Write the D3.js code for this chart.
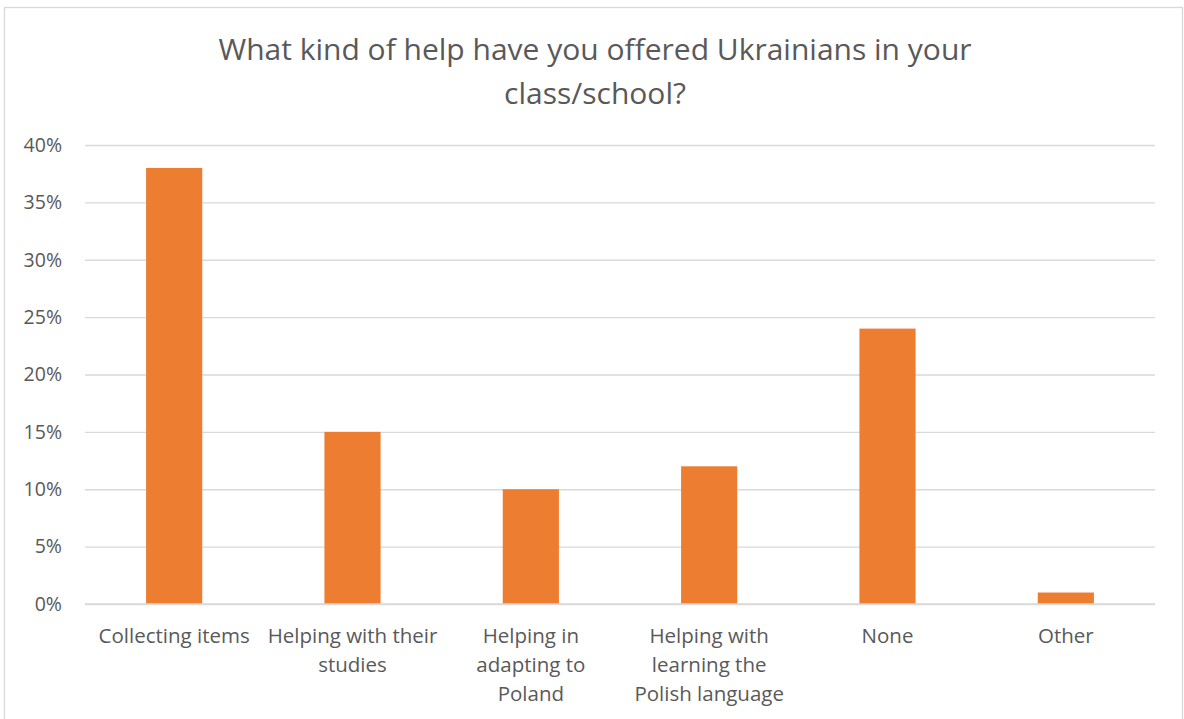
<!DOCTYPE html>
<html>
<head>
<meta charset="utf-8">
<script src="https://cdn.jsdelivr.net/npm/d3@7"></script>
<style>
  html, body { margin: 0; padding: 0; background: #fff; }
  svg { display: block; font-family: "Open Sans", sans-serif; }
</style>
</head>
<body>
<svg id="chart" width="1184" height="719"></svg>
<script>
// Survey answers: share of respondents per type of help offered
const categories = [
  "Collecting items",
  "Helping with their studies",
  "Helping in adapting to Poland",
  "Helping with learning the Polish language",
  "None",
  "Other"
];
const values = [0.38, 0.15, 0.10, 0.12, 0.24, 0.01];
const yTicks = [0, 0.05, 0.10, 0.15, 0.20, 0.25, 0.30, 0.35, 0.40];
const titleLines = ["What kind of help have you offered Ukrainians in your", "class/school?"];

const svg = d3.select("#chart");
const plot = { left: 85, right: 1155, top: 145, bottom: 604 };
const fontFamily = "'Open Sans', sans-serif";
const textColor = "#595959";
const gridColor = "#d9d9d9";
const barColor = "#ed7d31";

// Outer chart frame
svg.append("rect")
  .attr("x", 4.5).attr("y", 7.5)
  .attr("width", 1178).attr("height", 720)
  .attr("fill", "#fff")
  .attr("stroke", gridColor).attr("stroke-width", 1.3);

// Title
svg.append("g").selectAll("text").data(titleLines).join("text")
  .attr("x", 595).attr("y", (d, i) => 60 + i * 44)
  .attr("text-anchor", "middle")
  .attr("fill", textColor)
  .attr("font-size", 30)
  .text(d => d);

const x = d3.scaleBand()
  .domain(categories)
  .range([plot.left, plot.right])
  .paddingInner(0.685)
  .paddingOuter(0.3425);

const y = d3.scaleLinear()
  .domain([0, 0.4])
  .range([plot.bottom, plot.top]);

// Horizontal gridlines + y labels
const yAxis = d3.axisLeft(y)
  .tickValues(yTicks)
  .tickFormat(d3.format(".0%"))
  .tickSize(-(plot.right - plot.left))
  .tickPadding(23);

const gy = svg.append("g")
  .attr("transform", `translate(${plot.left},0)`)
  .call(yAxis);
gy.select(".domain").remove();
gy.selectAll(".tick line").attr("stroke", gridColor).attr("stroke-width", 1.3);
gy.selectAll(".tick text")
  .attr("fill", textColor)
  .attr("font-size", 19.5)
  .attr("font-family", fontFamily);

// Bars
svg.append("g").selectAll("rect").data(values).join("rect")
  .attr("x", (d, i) => x(categories[i]))
  .attr("width", x.bandwidth())
  .attr("y", d => y(d))
  .attr("height", d => y(0) - y(d))
  .attr("fill", barColor);

// Category axis line
svg.append("line")
  .attr("x1", plot.left).attr("x2", plot.right)
  .attr("y1", y(0)).attr("y2", y(0))
  .attr("stroke", gridColor).attr("stroke-width", 1.3);

// Category labels, wrapped to the width of each band
const xAxis = d3.axisBottom(x).tickSize(0).tickPadding(24);
const gx = svg.append("g")
  .attr("transform", `translate(0,${plot.bottom})`)
  .call(xAxis);
gx.select(".domain").remove();
gx.selectAll(".tick text")
  .attr("fill", textColor)
  .attr("font-size", 20.5)
  .attr("font-family", fontFamily)
  .call(wrap, x.step() - 6);

function wrap(sel, width) {
  sel.each(function () {
    const text = d3.select(this);
    const words = text.text().split(/\s+/);
    const yPos = text.attr("y");
    const dy = parseFloat(text.attr("dy")) || 0;
    text.text(null);
    let line = [];
    let lineNo = 0;
    let tspan = text.append("tspan").attr("x", 0).attr("y", yPos).attr("dy", dy + "em");
    for (const w of words) {
      line.push(w);
      tspan.text(line.join(" "));
      if (tspan.node().getComputedTextLength() > width && line.length > 1) {
        line.pop();
        tspan.text(line.join(" "));
        line = [w];
        lineNo++;
        tspan = text.append("tspan").attr("x", 0).attr("y", yPos)
          .attr("dy", (lineNo * 1.42 + dy) + "em").text(w);
      }
    }
  });
}
</script>
</body>
</html>
